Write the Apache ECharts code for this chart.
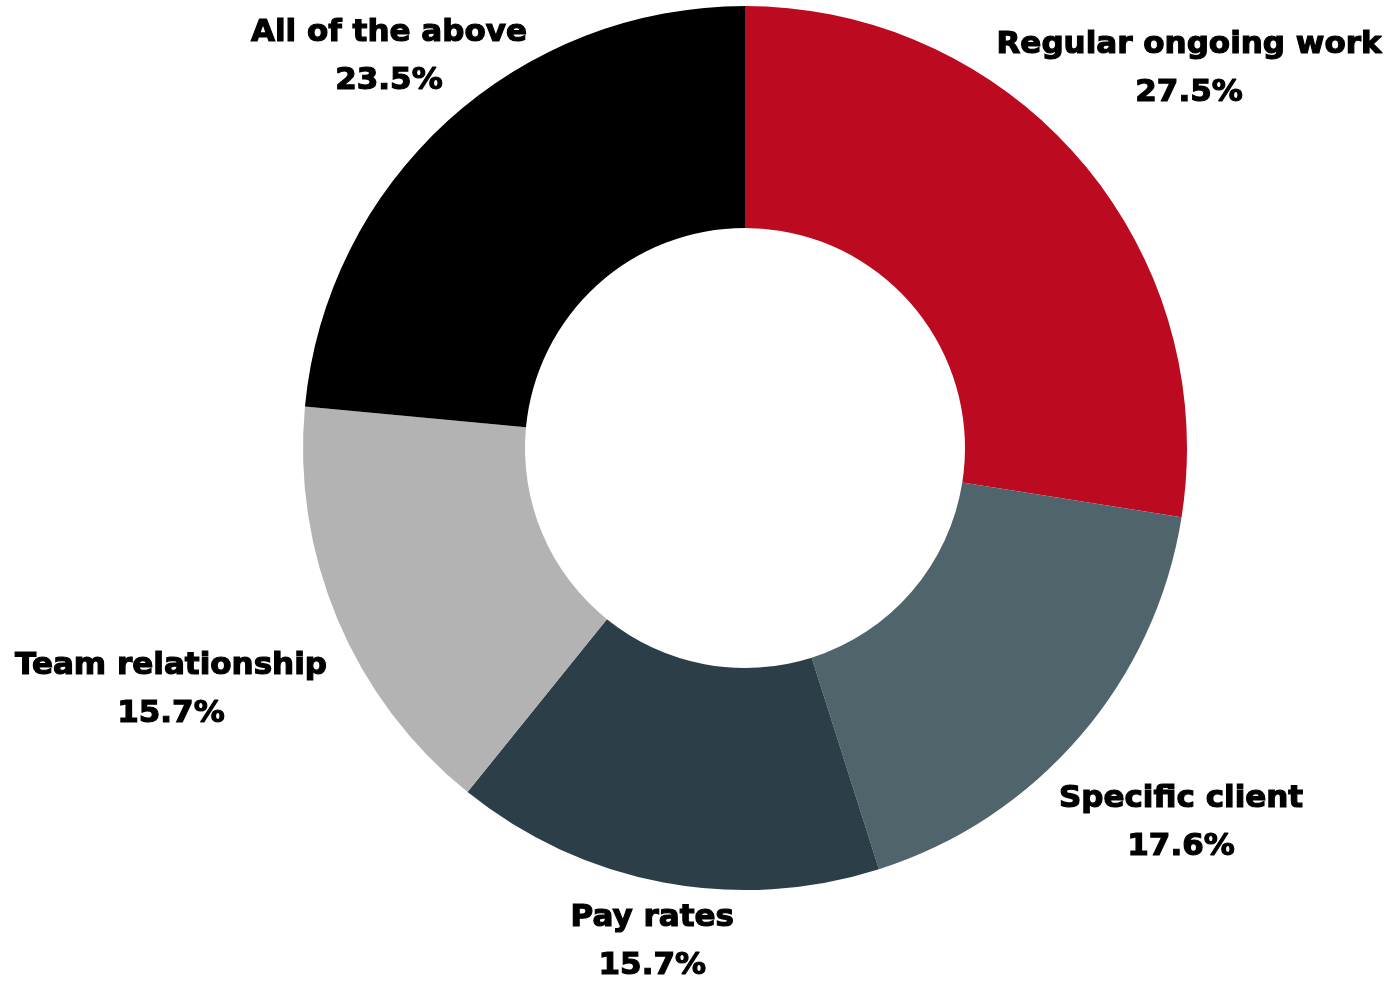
<!DOCTYPE html>
<html>
<head>
<meta charset="utf-8">
<style>
  html, body { margin: 0; padding: 0; background: #ffffff; }
  #chart { width: 1391px; height: 982px; }
</style>
<script src="https://cdn.jsdelivr.net/npm/echarts@6/dist/echarts.min.js"></script>
</head>
<body>
<div id="chart"></div>
<script>
// Share of responses by category (percent)
const categories = ['Regular ongoing work', 'Specific client', 'Pay rates', 'Team relationship', 'All of the above'];
const shares = [27.5, 17.6, 15.7, 15.7, 23.5];
const sliceColors = ['#BC0A21', '#50646B', '#2C3F48', '#B3B3B3', '#000000'];

// Donut geometry and label spacing beyond the outer edge
const CENTER = [745, 448];
const INNER_R = 220;
const OUTER_R = 442;
const START_ANGLE = 90;
const labelGap = [142, 133, 61, 181, 87];

const total = shares.reduce((a, b) => a + b, 0);
const midAngles = [];
let acc = 0;
shares.forEach(v => {
  midAngles.push(START_ANGLE - 360 * (acc + v / 2) / total);
  acc += v;
});

const chart = echarts.init(document.getElementById('chart'), null, { renderer: 'canvas' });

chart.setOption({
  backgroundColor: '#ffffff',
  animation: false,
  series: [{
    type: 'pie',
    center: CENTER,
    radius: [INNER_R, OUTER_R],
    startAngle: START_ANGLE,
    clockwise: true,
    avoidLabelOverlap: false,
    itemStyle: { borderWidth: 0 },
    label: {
      show: true,
      position: 'outside',
      formatter: p => p.name + '\n' + p.value.toFixed(1) + '%',
      fontFamily: '"DejaVu Sans"',
      fontWeight: 'bold',
      fontSize: 31,
      lineHeight: 48,
      color: '#000000',
      textBorderColor: '#000000',
      textBorderWidth: 1.2,
      align: 'center'
    },
    labelLine: { show: false },
    labelLayout: params => {
      const i = params.dataIndex;
      const a = midAngles[i] * Math.PI / 180;
      const r = OUTER_R + labelGap[i];
      return {
        x: CENTER[0] + r * Math.cos(a),
        y: CENTER[1] - r * Math.sin(a),
        align: 'center',
        verticalAlign: 'middle'
      };
    },
    data: categories.map((name, i) => ({
      name: name,
      value: shares[i],
      itemStyle: { color: sliceColors[i] }
    }))
  }]
});
</script>
</body>
</html>
